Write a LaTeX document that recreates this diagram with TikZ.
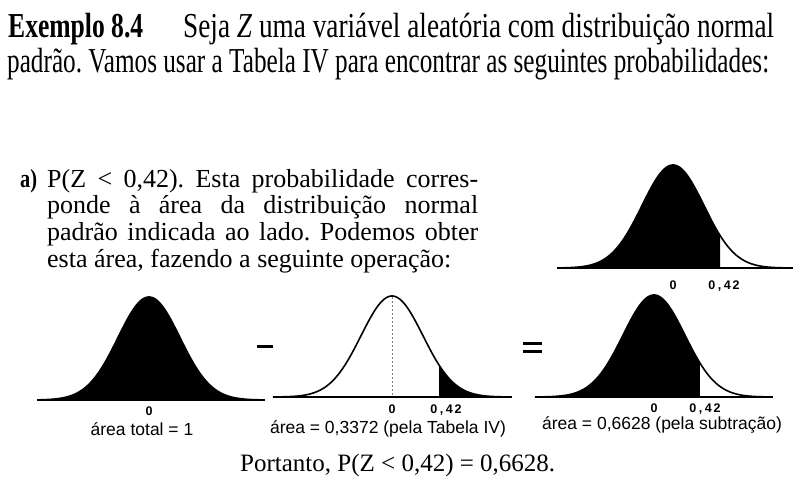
\documentclass[tikz,border=0pt]{standalone}
\usepackage{fontspec}
\setmainfont{Liberation Serif}
\setsansfont{Liberation Sans}
\usepackage{graphicx}
\frenchspacing
\begin{document}
\begin{tikzpicture}[x=1pt,y=-1pt,
  title/.style={anchor=base west,inner sep=0pt,font=\fontsize{35}{35}\selectfont},
  para/.style={anchor=base west,inner sep=0pt,font=\fontsize{26}{27}\selectfont},
  ticklbl/.style={anchor=base,inner sep=0pt,font=\sffamily\bfseries\fontsize{12.5}{13}\selectfont},
  caption/.style={anchor=base,inner sep=0pt,font=\sffamily\fontsize{17.5}{18}\selectfont},
  curve/.style={line width=1.6pt},
  axisline/.style={line width=2pt},
  opsym/.style={line width=3pt}]
\useasboundingbox (0,0) rectangle (807,496);

% title
\node[title] (t1) at (8,37) {\resizebox{135pt}{\height}{\bfseries Exemplo 8.4}};
\node[title] (t2) at (183,37) {\resizebox{591pt}{\height}{Seja \textit{Z} uma variável aleatória com distribuição normal}};
\node[title] (t3) at (7,72) {\resizebox{762pt}{\height}{padrão. Vamos usar a Tabela IV para encontrar as seguintes probabilidades:}};

% paragraph a)
\node[para] (pa) at (20,187) {\resizebox{17pt}{\height}{\bfseries a)}};
\node[para] (p1) at (47,187) {\makebox[431pt][s]{P(Z < 0,42). Esta probabilidade corres-}};
\node[para] (p2) at (47,213.5) {\makebox[431pt][s]{ponde à área da distribuição normal}};
\node[para] (p3) at (47,240) {\makebox[431pt][s]{padrão indicada ao lado. Podemos obter}};
\node[para] (p4) at (47,267) {esta área, fazendo a seguinte operação:};

% top-right curve
\begin{scope}[shift={(673,268)}]
  \fill (-116,0) -- plot[domain=-3.74:1.52,samples=90] ({31*\x},{-103*exp(-(\x*\x)/2)}) -- (47.12,0) -- cycle;
  \draw[curve] plot[domain=-3.74:3.87,samples=140] ({31*\x},{-103*exp(-(\x*\x)/2)});
  \draw[axisline] (-116,0) -- (120,0);
\end{scope}
\node[ticklbl] (tr0) at (673,289) {0};
\node[ticklbl] (tr1) at (724,289) {0\kern2.5pt,\kern2.5pt4\kern2pt2};

% curve 1: total area
\begin{scope}[shift={(149,400)}]
  \fill (-111.6,0) -- plot[domain=-3.6:3.74,samples=140] ({31*\x},{-103*exp(-(\x*\x)/2)}) -- (115.9,0) -- cycle;
  \draw[curve] plot[domain=-3.6:3.74,samples=140] ({31*\x},{-103*exp(-(\x*\x)/2)});
  \draw[axisline] (-112,0) -- (116,0);
\end{scope}
\node[ticklbl] (c10) at (149,415) {0};
\node[caption] (c1cap) at (142,435) {área total = 1};

% minus sign
\draw[opsym] (257,346) -- (273,346);

% curve 2: right tail
\begin{scope}[shift={(392,397)}]
  \fill (47.12,0) -- plot[domain=1.52:3.84,samples=60] ({31*\x},{-101*exp(-(\x*\x)/2)}) -- (119,0) -- cycle;
  \draw[gray,line width=0.8pt,dash pattern=on 2pt off 2pt] (0,-100) -- (0,0);
  \draw[curve] plot[domain=-3.84:3.84,samples=140] ({31*\x},{-101*exp(-(\x*\x)/2)});
  \draw[axisline] (-119,0) -- (120,0);
\end{scope}
\node[ticklbl] (c20) at (392,413) {0};
\node[ticklbl] (c21) at (446,413) {0\kern2.5pt,\kern2.5pt4\kern2pt2};
\node[caption] (c2cap) at (388,433) {área = 0,3372 (pela Tabela IV)};

% equals sign
\draw[opsym] (523,343) -- (542,343);
\draw[opsym] (523,351) -- (542,351);

% curve 3: result
\begin{scope}[shift={(654,397)}]
  \fill (-119,0) -- plot[domain=-3.84:1.48,samples=100] ({31*\x},{-102*exp(-(\x*\x)/2)}) -- (45.88,0) -- cycle;
  \draw[curve] plot[domain=-3.84:3.84,samples=140] ({31*\x},{-102*exp(-(\x*\x)/2)});
  \draw[axisline] (-119,0) -- (119,0);
\end{scope}
\node[ticklbl] (c30) at (654,412) {0};
\node[ticklbl] (c31) at (705,412) {0\kern2.5pt,\kern2.5pt4\kern2pt2};
\node[caption] (c3cap) at (662,429) {área = 0,6628 (pela subtração)};

% conclusion
\node[para,font=\fontsize{25}{25}\selectfont] (res) at (240,471) {Portanto, P(Z < 0,42) = 0,6628.};
\end{tikzpicture}
\end{document}
